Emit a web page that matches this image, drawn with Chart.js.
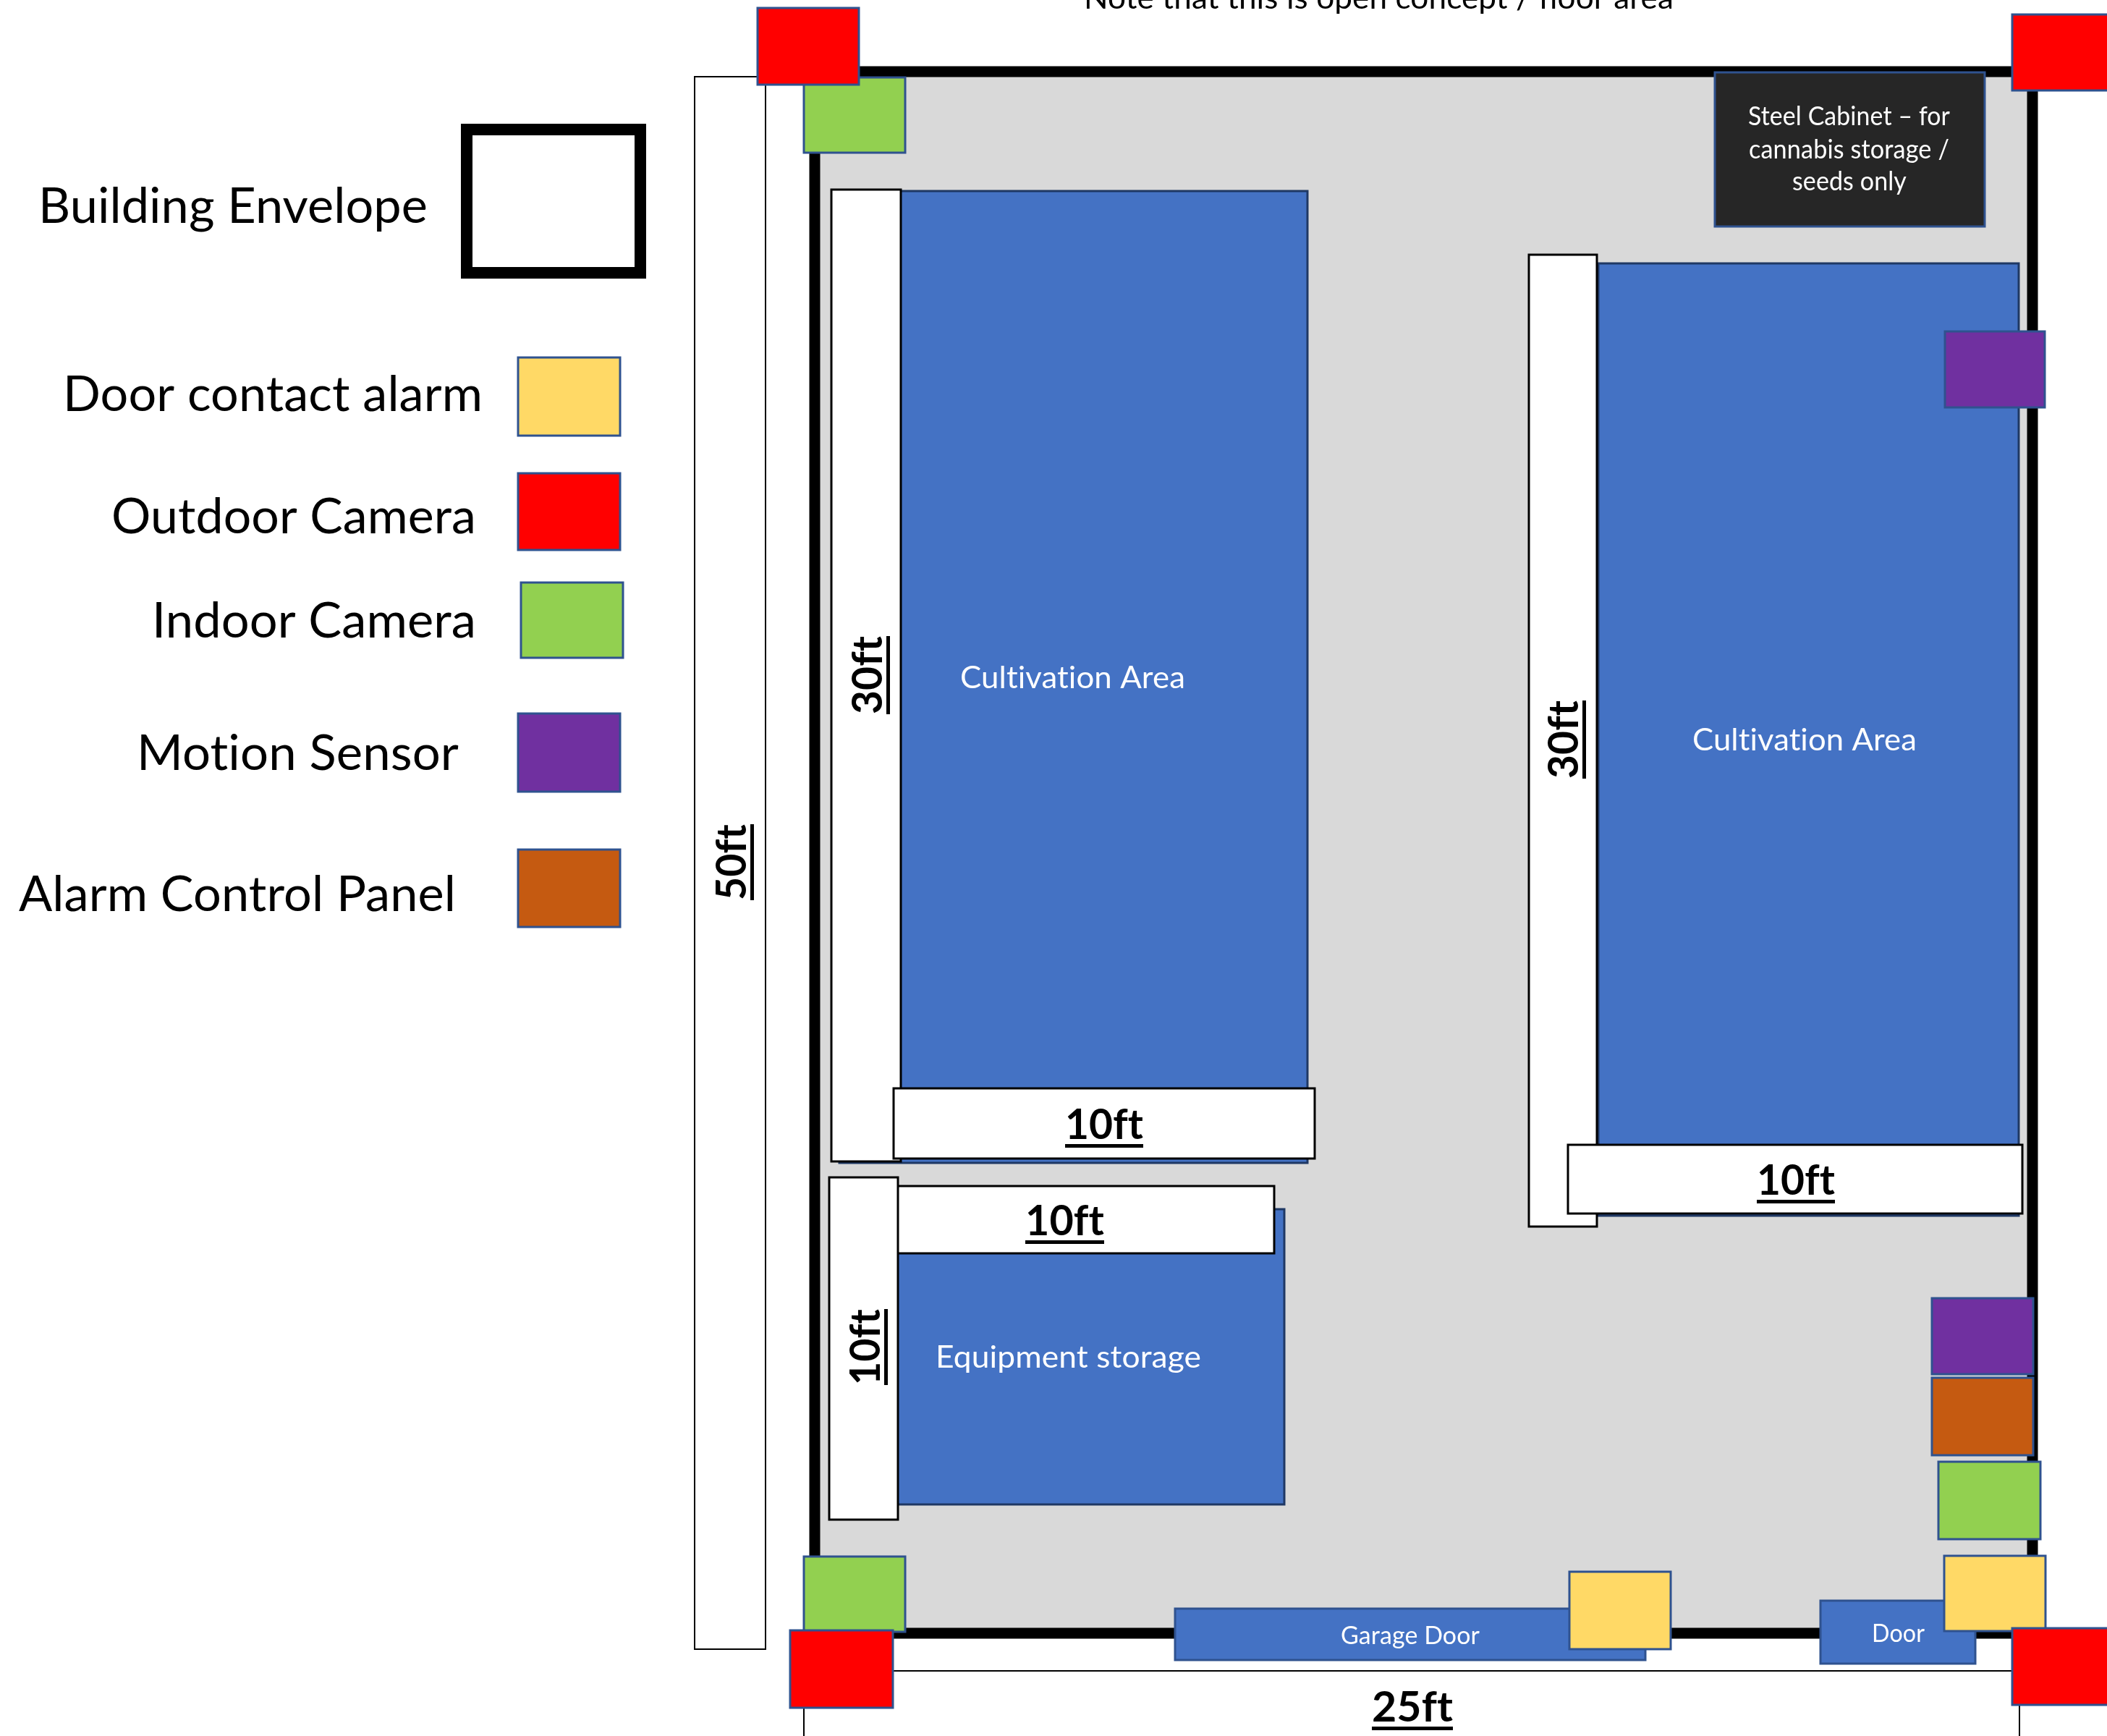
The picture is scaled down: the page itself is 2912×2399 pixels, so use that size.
<!DOCTYPE html>
<html>
<head>
<meta charset="utf-8">
<title>Floor plan</title>
<style>
  html, body { margin: 0; padding: 0; background: #fff; overflow: hidden; }
  canvas { display: block; }
</style>
<script src="https://cdn.jsdelivr.net/npm/chart.js@4/dist/chart.umd.js"></script>
</head>
<body>
<canvas id="plan" width="2912" height="2399"></canvas>
<script>
// plan values are [left, right, top, bottom]
const envelopeKey = [645, 885, 179, 377];
const envelope = [1126, 2809, 99, 2257];
const cultivation = [[1159, 1808, 263, 1608], [2208, 2791, 363, 1681]];
const equipment = [[1160, 1776, 1670, 2080]];
const cabinet = [[2369, 2744, 99, 314]];
const doors = [[1623, 2275, 2222, 2295], [2515, 2731, 2211, 2300]];
const dimensionsBack = [[959, 1059, 105, 2280], [1110, 2792, 2308, 2430]];
const dimensionsCultA = [[1148, 1246, 261, 1606], [1234, 1818, 1503, 1602]];
const dimensionsEquip = [[1200, 1762, 1638, 1733], [1145, 1242, 1626, 2101]];
const dimensionsCultB = [[2112, 2208, 351, 1696], [2166, 2796, 1581, 1678]];
const doorAlarms = [[2168, 2310, 2171, 2280], [2686, 2828, 2149, 2255], [715, 858, 493, 603]];
const indoorCams = [[1110, 1252, 106, 212], [1110, 1252, 2150, 2256], [2678, 2821, 2019, 2128], [719, 862, 804, 910]];
const motionSensors = [[2687, 2827, 457, 564], [2669, 2811, 1793, 1900], [715, 858, 985, 1095]];
const controlPanels = [[2669, 2811, 1903, 2012], [715, 858, 1173, 1282]];
const outdoorCams = [[1046, 1188, 10, 118], [1091, 1235, 2252, 2361], [2780, 2930, 19, 126], [2780, 2930, 2249, 2357], [715, 858, 653, 761]];

const legendText = ["Building Envelope", "Door contact alarm", "Outdoor Camera", "Indoor Camera", "Motion Sensor", "Alarm Control Panel"];
const roomText = ["Cultivation Area", "Cultivation Area", "Equipment storage", "Garage Door", "Door"];
const cabinetText = ["Steel Cabinet – for", "cannabis storage /", "seeds only"];
const noteText = "Note that this is open concept / floor area";
const dimText = ["50ft", "30ft", "30ft", "10ft", "10ft", "10ft", "10ft", "25ft"];

// where the words sit: left, right, baseline
const legendPos = [[53, 591, 308], [87, 667, 568], [154, 658, 737], [210, 658, 881], [189, 634, 1064], [26, 630, 1259]];
const roomPos = [[1327, 1638, 951], [2339, 2649, 1037], [1293, 1660, 1890], [1853, 2045, 2272], [2587, 2660, 2269]];
const cabinetPos = [[2416, 2695, 173], [2417, 2694, 219], [2477, 2635, 263]];
const notePos = [1498, 2313, 12];
// horizontal: left, right, baseline. vertical: baseline x, top y, bottom y
const dimPos = [[1031, 1139, 1244, "v"], [1219, 879, 987, "v"], [2181, 968, 1076, "v"], [1216, 1809, 1914, "v"],
  [1472, 1580, 1574, "h"], [1417, 1526, 1707, "h"], [2428, 2536, 1651, "h"], [1896, 2008, 2379, "h"]];

const BLUE_EDGE = "#2f528f";

function box(r, fill, edge, width) {
  // thin outlines were read at their outer edge
  const inset = width <= 3 ? 1 : 0;
  const x0 = r[0] + inset, x1 = r[1] - inset, y0 = r[2] + inset, y1 = r[3] - inset;
  return {
    data: [
      {x: x0, y: y0}, {x: x1, y: y0}, {x: x1, y: y1}, {x: x0, y: y1}, {x: x0, y: y0}
    ],
    showLine: true,
    fill: "shape",
    backgroundColor: fill,
    borderColor: edge,
    borderWidth: width,
    borderCapStyle: "square",
    borderJoinStyle: "miter",
    tension: 0,
    pointRadius: 0
  };
}

function boxes(list, fill, edge, width) {
  return list.map(r => box(r, fill, edge, width));
}

// paint order, first one is at the bottom
let layers = [].concat(
  [box(envelopeKey, "#ffffff", "#000000", 16), box(envelope, "#d9d9d9", "#000000", 15)],
  boxes(dimensionsBack, "#ffffff", "#000000", 2),
  boxes([cultivation[0]], "#4472c4", "#1f3864", 3),
  boxes(dimensionsCultA, "#ffffff", "#000000", 3),
  boxes(equipment, "#4472c4", "#1f3864", 3),
  boxes(dimensionsEquip, "#ffffff", "#000000", 3),
  boxes([cultivation[1]], "#4472c4", "#1f3864", 3),
  boxes(dimensionsCultB, "#ffffff", "#000000", 3),
  boxes(cabinet, "#262626", BLUE_EDGE, 3),
  boxes(doors, "#4472c4", BLUE_EDGE, 3),
  boxes(doorAlarms, "#ffd966", BLUE_EDGE, 3),
  boxes(indoorCams, "#92d050", BLUE_EDGE, 3),
  boxes(motionSensors, "#7030a0", BLUE_EDGE, 3),
  boxes(controlPanels, "#c55a11", BLUE_EDGE, 3),
  boxes(outdoorCams, "#ff0000", BLUE_EDGE, 3)
);
layers.forEach((d, i) => { d.order = layers.length - i; });

// fitted text: squeezes the word into the width it has in the drawing
function fitted(ctx, text, x, y, w, font, color, angle) {
  ctx.save();
  ctx.font = font;
  ctx.letterSpacing = "0.1px"; // stops the ti and ft ligatures
  ctx.fillStyle = color;
  ctx.textAlign = "left";
  ctx.textBaseline = "alphabetic";
  let natural = ctx.measureText(text).width;
  ctx.translate(x, y);
  if (angle) ctx.rotate(angle);
  ctx.scale(w / natural, 1);
  ctx.fillText(text, 0, 0);
  ctx.restore();
}

const labelPlugin = {
  id: "planLabels",
  afterDatasetsDraw(chart) {
    const ctx = chart.ctx;
    const sx = chart.scales.x;
    const sy = chart.scales.y;
    const put = (text, p, font, color) => {
      const l = sx.getPixelForValue(p[0]);
      const r = sx.getPixelForValue(p[1]);
      fitted(ctx, text, l, sy.getPixelForValue(p[2]), r - l, font, color, 0);
    };
    legendText.forEach((t, i) => put(t, legendPos[i], "68px Lato", "#000000"));
    roomText.forEach((t, i) => {
      put(t, roomPos[i], i < 3 ? "43px Lato" : "35px Lato", "#ffffff");
    });
    cabinetText.forEach((t, i) => put(t, cabinetPos[i], "36px Lato", "#ffffff"));
    put(noteText, notePos, "43px Lato", "#000000");

    dimText.forEach((t, i) => {
      const p = dimPos[i];
      ctx.fillStyle = "#000000";
      if (p[3] === "h") {
        const l = sx.getPixelForValue(p[0]);
        const r = sx.getPixelForValue(p[1]);
        const b = sy.getPixelForValue(p[2]);
        fitted(ctx, t, l, b, r - l, "bold 58px Lato", "#000000", 0);
        ctx.fillRect(l, b + 7, r - l, 5);
      } else {
        const bx = sx.getPixelForValue(p[0]);
        const top = sy.getPixelForValue(p[1]);
        const bot = sy.getPixelForValue(p[2]);
        fitted(ctx, t, bx, bot, bot - top, "bold 58px Lato", "#000000", -Math.PI / 2);
        ctx.fillRect(bx + 6, top, 5, bot - top);
      }
    });
  }
};

let planChart = new Chart(document.getElementById("plan").getContext("2d"), {
  type: "scatter",
  data: { datasets: layers },
  options: {
    responsive: false,
    devicePixelRatio: 1,
    animation: false,
    layout: { padding: 0 },
    scales: {
      x: { type: "linear", display: false, min: 0, max: 2912 },
      y: { type: "linear", display: false, min: 0, max: 2399, reverse: true }
    },
    plugins: {
      legend: { display: false },
      title: { display: false },
      tooltip: { enabled: false }
    }
  },
  plugins: [labelPlugin]
});
</script>
</body>
</html>
